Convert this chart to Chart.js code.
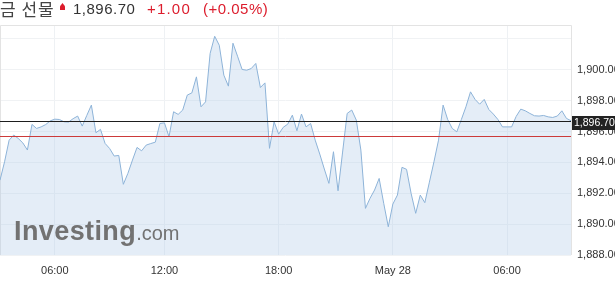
<!DOCTYPE html>
<html><head><meta charset="utf-8">
<script src="https://cdn.jsdelivr.net/npm/chart.js@4/dist/chart.umd.min.js"></script>
<style>
html,body{margin:0;padding:0;background:#fff;}
#wrap{position:relative;width:615px;height:290px;overflow:hidden;}
canvas{position:absolute;left:0;top:0;}
.t{position:absolute;top:0px;white-space:nowrap;font-family:"Liberation Sans",Arial,sans-serif;font-size:15px;letter-spacing:0.5px;line-height:17px;}
#name{left:0;top:-1px;font-family:"Noto Sans CJK KR","Noto Sans",sans-serif;font-size:17px;letter-spacing:1px;color:#444;line-height:19px;}
#arrow{position:absolute;left:60px;top:3px;width:5px;height:7px;background:#dc1c2c;clip-path:polygon(50% 0,100% 45%,100% 100%,0 100%,0 45%);}
#wm{position:absolute;left:14px;top:216px;font-family:"Liberation Sans",Arial,sans-serif;color:#727272;white-space:nowrap;}
#wm b{font-size:27px;letter-spacing:0.4px;}
#wm span{font-size:20px;}
</style></head>
<body><div id="wrap">
<canvas id="c" width="615" height="290"></canvas>
<div id="name" class="t">금 선물</div>
<div id="arrow"></div>
<div class="t" style="left:73px;color:#333;">1,896.70</div>
<div class="t" style="left:147px;color:#dc1c2c;letter-spacing:1.2px;">+1.00</div>
<div class="t" style="left:203px;color:#dc1c2c;">(+0.05%)</div>
<div id="wm"><b>Investing</b><span>.com</span></div>
</div>
<script>
const prices = [1892.85,1894.04,1895.44,1895.77,1895.55,1895.26,1894.80,1896.46,1896.20,1896.30,
1896.45,1896.69,1896.80,1896.78,1896.63,1896.61,1896.83,1897.00,1896.35,1897.04,
1897.71,1895.92,1896.14,1895.23,1894.90,1894.41,1894.45,1892.58,1893.29,1894.15,
1894.97,1894.75,1895.12,1895.22,1895.31,1896.52,1896.56,1895.66,1897.28,1897.11,
1897.39,1898.36,1898.50,1899.54,1897.60,1897.92,1901.06,1902.17,1901.59,1899.65,
1898.94,1901.72,1900.88,1900.02,1899.97,1900.08,1900.41,1898.85,1899.15,1894.91,
1896.63,1895.83,1896.27,1896.48,1897.06,1896.05,1897.13,1896.30,1896.52,1895.44,
1894.54,1893.57,1892.64,1894.69,1892.16,1894.67,1897.17,1897.39,1896.74,1894.80,
1891.02,1891.67,1892.21,1892.96,1891.35,1889.83,1891.30,1891.88,1893.68,1893.55,
1891.99,1890.70,1891.88,1891.39,1892.72,1894.04,1895.44,1897.71,1896.78,1896.20,
1895.98,1896.78,1897.60,1898.57,1898.08,1897.77,1898.08,1897.43,1897.13,1896.78,
1896.30,1896.30,1896.30,1896.98,1897.45,1897.34,1897.17,1897.02,1897.00,1897.04,
1896.95,1896.91,1897.00,1897.34,1896.85,1896.70];
const xTickLabels = ['06:00','12:00','18:00','May 28','06:00'];
const xTickIndex = [12,36,61,86,111];
const yTicks = [1888,1890,1892,1894,1896,1898,1900,1902];
const yMin = 1888, yMax = 1902.9;
const lastPrice = 1896.70;
const prevClose = 1895.70;

const fmt = v => v.toLocaleString('en-US',{minimumFractionDigits:2,maximumFractionDigits:2});

const refLines = {
  id:'refLines',
  beforeDatasetsDraw(c){
    const {ctx, chartArea:a} = c;
    ctx.save();
    ctx.strokeStyle = '#e3e3e3'; ctx.lineWidth = 1;
    ctx.beginPath();
    ctx.moveTo(a.left+0.5, a.bottom); ctx.lineTo(a.left+0.5, a.top+0.5);
    ctx.lineTo(Math.round(a.right)+0.5, a.top+0.5); ctx.lineTo(Math.round(a.right)+0.5, a.bottom);
    ctx.stroke();
    ctx.restore();
  },
  afterDatasetsDraw(c){
    const {ctx, chartArea:a, scales:{y}} = c;
    ctx.save();
    ctx.lineWidth = 1;
    [[prevClose,'#cc3a3a'],[lastPrice,'#1e1e1e']].forEach(([v,col])=>{
      const py = Math.round(y.getPixelForValue(v))+0.5;
      ctx.strokeStyle = col; ctx.beginPath();
      ctx.moveTo(a.left, py); ctx.lineTo(a.right, py); ctx.stroke();
    });
    ctx.restore();
  },
  afterDraw(c){
    const {ctx, chartArea:a, scales:{y}} = c;
    const py = Math.round(y.getPixelForValue(lastPrice));
    ctx.save();
    ctx.fillStyle = '#222';
    ctx.fillRect(Math.round(a.right)+1, py-5, 50, 14);
    ctx.fillStyle = '#fff';
    ctx.font = '10.5px "Liberation Sans", Arial, sans-serif';
    ctx.textBaseline = 'middle'; ctx.textAlign = 'left';
    ctx.fillText(fmt(lastPrice), Math.round(a.right)+3, py+2);
    ctx.restore();
  }
};

new Chart(document.getElementById('c'), {
  type:'line',
  data:{datasets:[{
    data: prices.map((v,i)=>({x:i,y:v})),
    borderColor:'#8db3d8', borderWidth:1,
    backgroundColor:'rgba(180,205,232,0.36)', fill:'start',
    pointRadius:0, tension:0
  }]},
  options:{
    responsive:false, animation:false, devicePixelRatio:1,
    layout:{padding:{top:25,left:0,right:0,bottom:0}},
    plugins:{legend:{display:false}, tooltip:{enabled:false}},
    scales:{
      x:{
        type:'linear', min:0, max:prices.length-1,
        afterBuildTicks:s=>{ s.ticks = xTickIndex.map(v=>({value:v})); },
        afterFit:s=>{ s.height = 35; },
        ticks:{ autoSkip:false, maxRotation:0, padding:9, color:'#333',
          font:{size:11, family:'"Liberation Sans", Arial, sans-serif'},
          callback:(v)=>{ const k = xTickIndex.indexOf(v); return k>=0 ? xTickLabels[k] : ''; } },
        grid:{ color:'#eef1f4', drawTicks:false },
        border:{ display:false }
      },
      y:{
        position:'right', min:yMin, max:yMax,
        afterBuildTicks:s=>{ s.ticks = yTicks.map(v=>({value:v})); },
        afterFit:s=>{ s.width = 44; },
        ticks:{ padding:6, color:'#333',
          font:{size:11, family:'"Liberation Sans", Arial, sans-serif'},
          callback:(v)=> v>1901 ? '' : fmt(v) },
        grid:{ color:'#f0f2f4', drawTicks:false },
        border:{ display:false }
      }
    }
  },
  plugins:[refLines]
});
</script>
</body></html>
